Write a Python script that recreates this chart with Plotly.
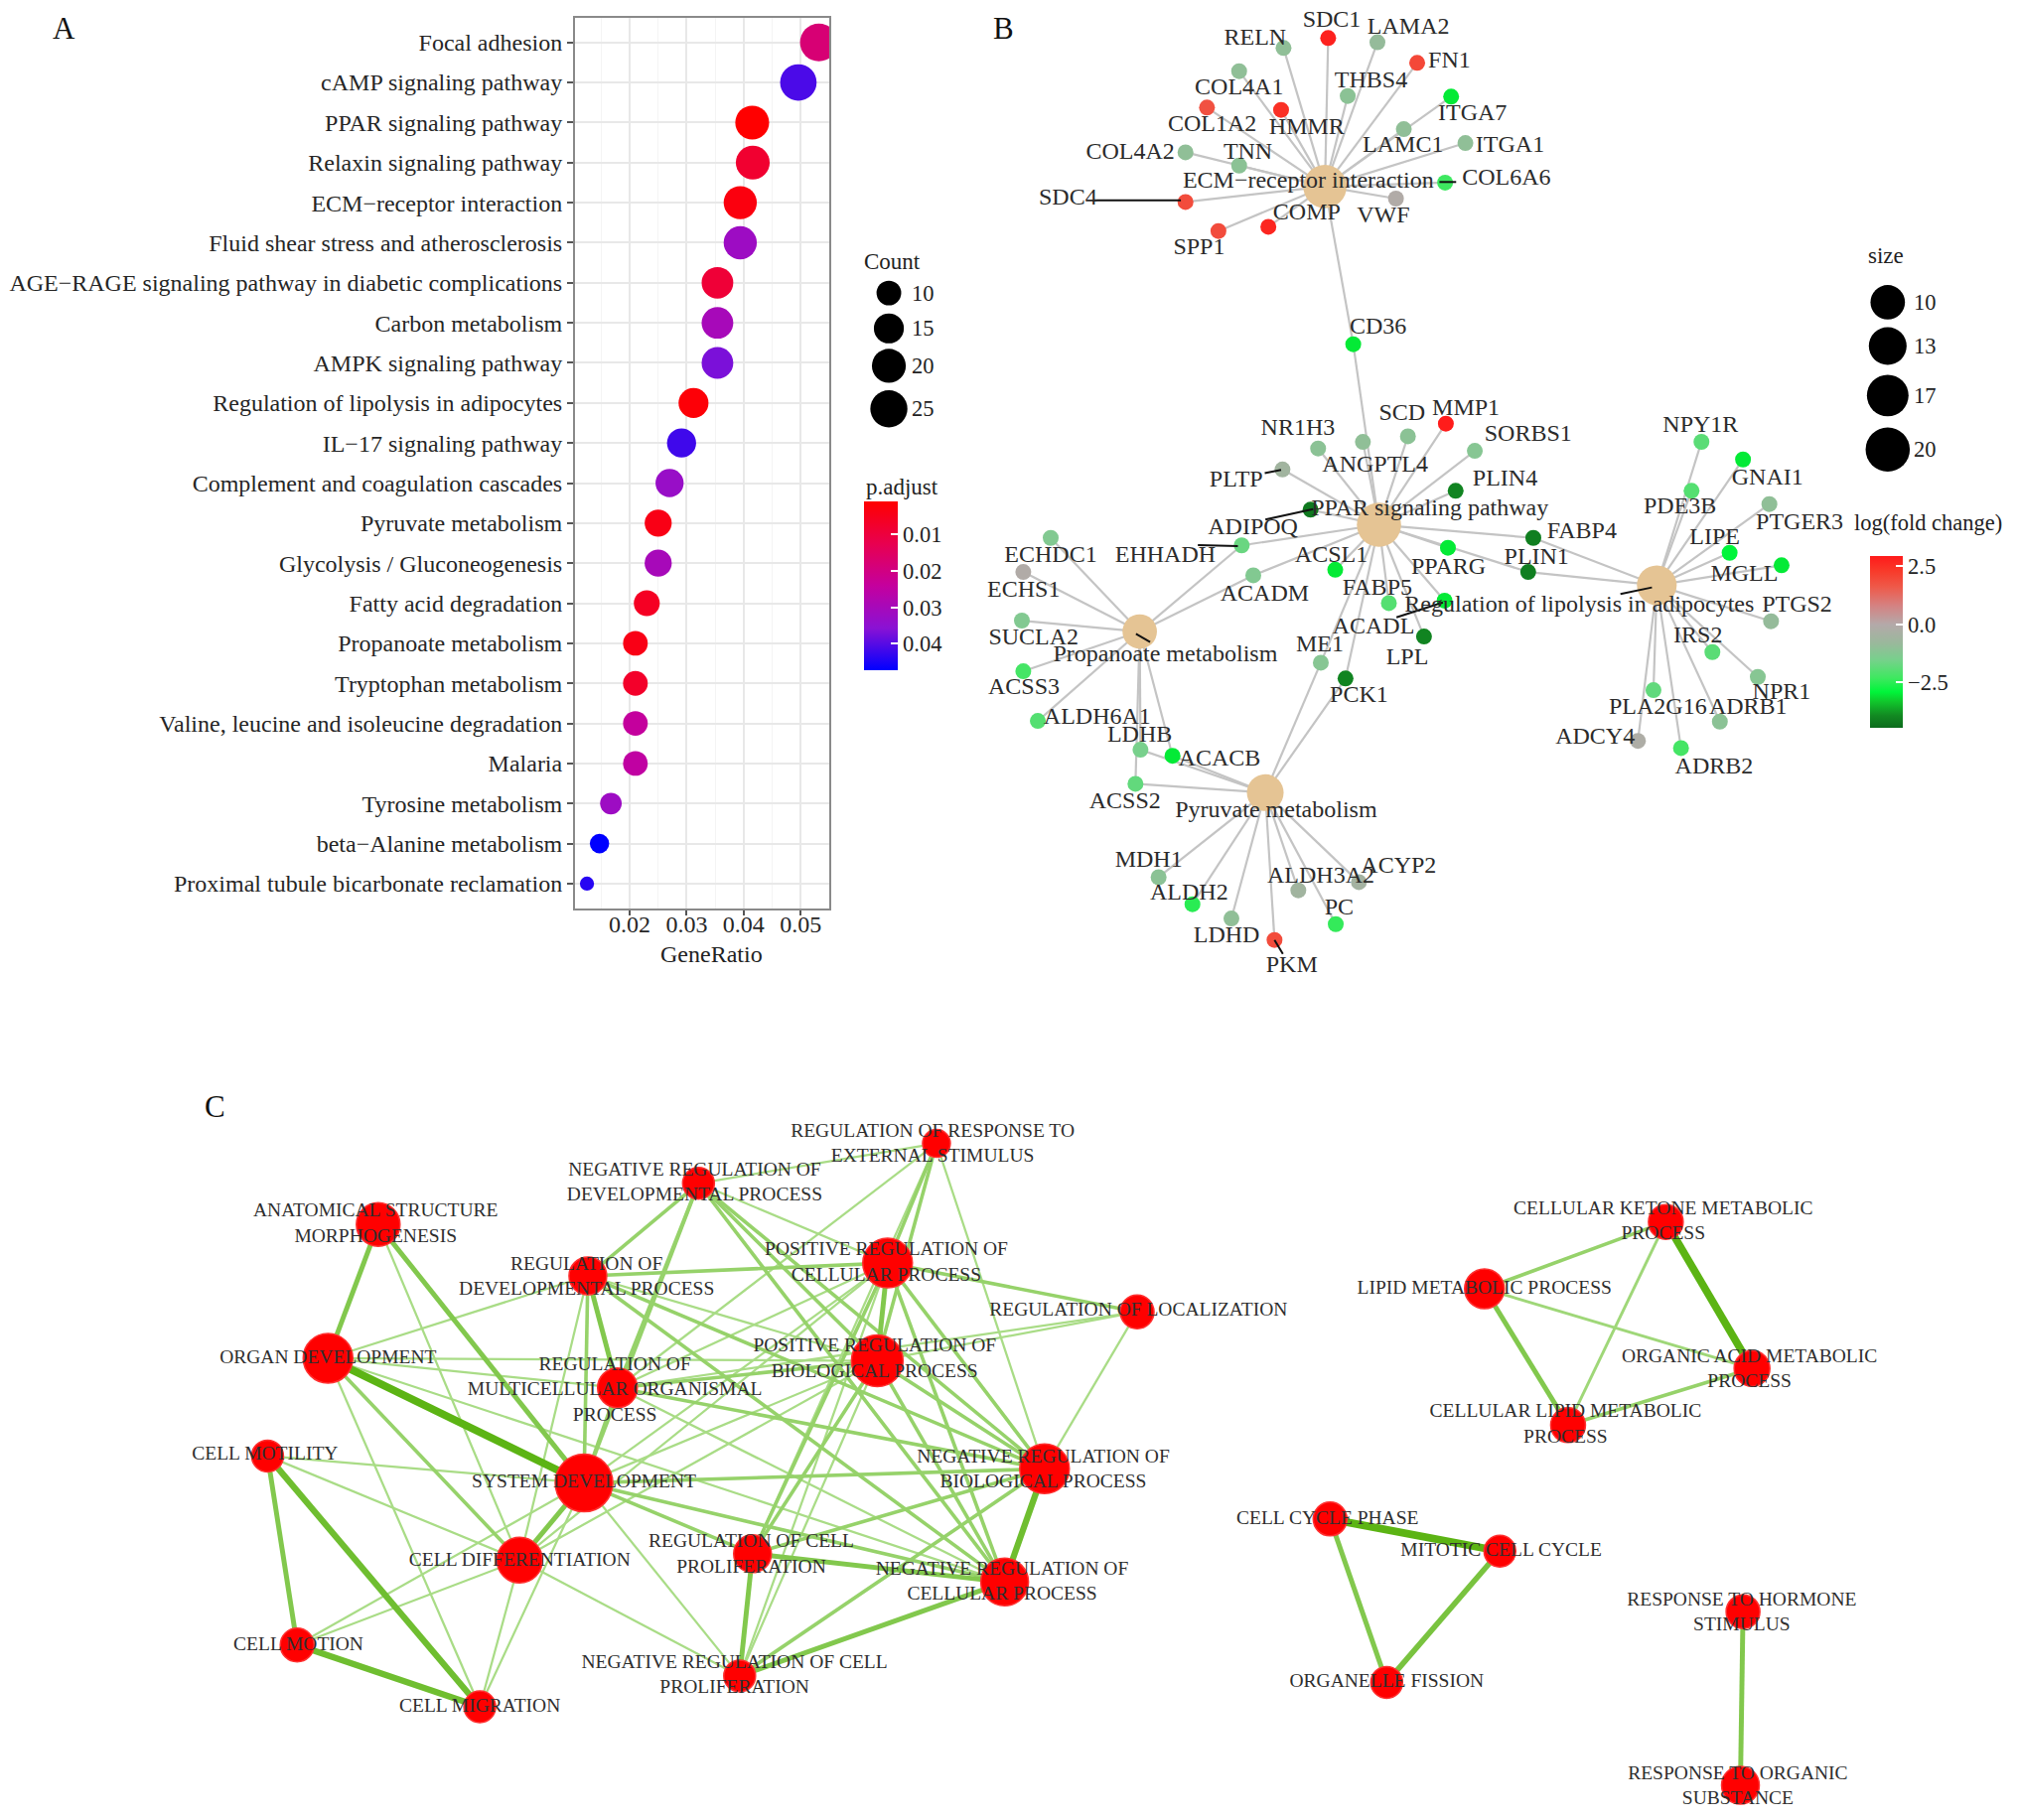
import numpy as np
import plotly.graph_objects as go

W, H = 2031, 1833
W0, H0 = 1568.0, 1415.0          # reference frame units used for the network layouts
S = W / W0                       # pixels per frame unit
SERIF = "Liberation Serif, Times New Roman, serif"
MINUS = "\u2212"

# ---------------- Panel A : KEGG dot plot ----------------
terms = ["Focal adhesion", "cAMP signaling pathway", "PPAR signaling pathway",
         "Relaxin signaling pathway", "ECM" + MINUS + "receptor interaction",
         "Fluid shear stress and atherosclerosis",
         "AGE" + MINUS + "RAGE signaling pathway in diabetic complications",
         "Carbon metabolism", "AMPK signaling pathway",
         "Regulation of lipolysis in adipocytes", "IL" + MINUS + "17 signaling pathway",
         "Complement and coagulation cascades", "Pyruvate metabolism",
         "Glycolysis / Gluconeogenesis", "Fatty acid degradation",
         "Propanoate metabolism", "Tryptophan metabolism",
         "Valine, leucine and isoleucine degradation", "Malaria",
         "Tyrosine metabolism", "beta" + MINUS + "Alanine metabolism",
         "Proximal tubule bicarbonate reclamation"]
gene_ratio = [0.0532, 0.0496, 0.0415, 0.0416, 0.0394, 0.0394, 0.0354, 0.0354, 0.0354,
              0.0312, 0.0291, 0.0270, 0.0250, 0.0250, 0.0230, 0.0210, 0.0210, 0.0210,
              0.0210, 0.0167, 0.0147, 0.0125]
counts = [26, 24, 20, 20, 19, 19, 17, 17, 17, 15, 14, 13, 12, 12, 11, 10, 10, 10, 10, 8, 7, 6]
p_adjust = [0.018, 0.041, 0.0009, 0.008, 0.003, 0.032, 0.009, 0.030, 0.037, 0.002, 0.042,
            0.033, 0.004, 0.030, 0.006, 0.004, 0.007, 0.024, 0.025, 0.032, 0.0473, 0.044]
count_breaks = [10, 15, 20, 25]
padj_ticks = [0.01, 0.02, 0.03, 0.04]
ratio_ticks = [0.02, 0.03, 0.04, 0.05]

# ---------------- Panel B : gene-concept network ----------------
cat_names = ["ECM" + MINUS + "receptor interaction", "PPAR signaling pathway",
             "Regulation of lipolysis in adipocytes", "Propanoate metabolism",
             "Pyruvate metabolism"]
cat_size = [19, 20, 15, 10, 12]
size_breaks = [10, 13, 17, 20]
cat_genes = [
    ["RELN", "SDC1", "LAMA2", "FN1", "COL4A1", "THBS4", "ITGA7", "COL1A2", "HMMR", "LAMC1",
     "ITGA1", "COL4A2", "TNN", "COL6A6", "SDC4", "VWF", "COMP", "SPP1", "CD36"],
    ["CD36", "NR1H3", "ANGPTL4", "SCD", "MMP1", "SORBS1", "PLTP", "PLIN4", "ADIPOQ", "FABP4",
     "PLIN1", "EHHADH", "ACSL1", "PPARG", "ACADM", "FABP5", "ACADL", "LPL", "ME1", "PCK1"],
    ["NPY1R", "GNAI1", "PDE3B", "PTGER3", "LIPE", "MGLL", "PTGS2", "IRS2", "NPR1", "PLA2G16",
     "ADRB1", "ADCY4", "ADRB2", "FABP4", "PLIN1"],
    ["ECHDC1", "ECHS1", "SUCLA2", "ACSS3", "ALDH6A1", "LDHB", "ACACB", "ACSS2", "EHHADH", "ACADM"],
    ["LDHB", "ACACB", "ACSS2", "MDH1", "ALDH2", "LDHD", "PKM", "ALDH3A2", "ACYP2", "PC", "ME1", "PCK1"],
]
genes = ["RELN", "SDC1", "LAMA2", "FN1", "COL4A1", "THBS4", "ITGA7", "COL1A2", "HMMR", "LAMC1",
         "ITGA1", "COL4A2", "TNN", "COL6A6", "SDC4", "VWF", "COMP", "SPP1", "CD36",
         "NR1H3", "ANGPTL4", "SCD", "MMP1", "SORBS1", "PLTP", "PLIN4", "ADIPOQ", "FABP4", "PLIN1",
         "EHHADH", "ACSL1", "PPARG", "ACADM", "FABP5", "ACADL", "LPL", "ME1", "PCK1",
         "ECHDC1", "ECHS1", "SUCLA2", "ACSS3", "ALDH6A1", "LDHB", "ACACB", "ACSS2",
         "MDH1", "ALDH2", "LDHD", "PKM", "ALDH3A2", "ACYP2", "PC",
         "NPY1R", "GNAI1", "PDE3B", "PTGER3", "LIPE", "MGLL", "PTGS2", "IRS2", "NPR1",
         "PLA2G16", "ADRB1", "ADCY4", "ADRB2"]
gene_logfc = [-1.0, 2.8, -0.9, 2.0, -1.0, -1.1, -3.0, 1.8, 2.5, -1.0,
              -1.0, -1.0, -1.1, -2.3, 1.9, -0.1, 2.7, 1.9, -3.0,
              -1.1, -1.0, -1.1, 2.9, -1.2, -0.6, -4.0, -4.2, -4.1, -4.1,
              -1.7, -3.0, -3.0, -1.3, -2.0, -3.0, -4.0, -1.2, -4.0,
              -1.3, -0.1, -1.3, -2.2, -2.0, -1.5, -3.0, -1.8,
              -1.1, -2.5, -1.0, 1.9, -0.6, -0.5, -2.4,
              -1.9, -3.0, -2.0, -1.0, -2.9, -3.0, -0.9, -1.9, -1.2,
              -1.8, -1.1, -0.2, -2.2]
fc_ticks = [2.5, 0.0, -2.5]
fc_range = [-4.44, 2.94]

# network layout (frame units)
cat_x = [1030, 1072, 1288, 886, 983.6]
cat_y = [145, 408, 455, 491, 616.3]
cat_lab_x = [1017, 1111.5, 1227.8, 905.9, 992]
cat_lab_y = [141.5, 395.8, 471, 509.5, 630.5]
gene_x = [997.8, 1032.5, 1070.8, 1101.7, 963.3, 1047.7, 1128.1, 938.3, 995.9, 1091.3,
          1139.2, 921.6, 963.3, 1123.4, 921.6, 1085.2, 986, 947.2, 1052,
          1024.7, 1059.5, 1094.5, 1124, 1146.5, 997, 1131.6, 1018.8, 1192, 1188,
          965.3, 1038, 1125.6, 974.3, 1079.7, 1123, 1107, 1026.8, 1046,
          816.8, 795.5, 794.4, 795.5, 806.8, 886.6, 911.5, 882.7,
          900.7, 927, 957.3, 990.8, 1009.3, 1056.4, 1038.4,
          1322.7, 1355, 1315, 1375.5, 1344.6, 1385, 1376.8, 1331.2, 1366.5,
          1285.4, 1337, 1273.3, 1306.8]
gene_y = [37.3, 29.6, 32.9, 48.9, 55.3, 74.6, 75.1, 83.6, 85.4, 100.4,
          111.2, 118.4, 128.7, 142, 157, 154.4, 176.3, 179.6, 267.6,
          348.7, 343.6, 339.2, 329.4, 350.5, 365, 381.6, 396.3, 418.2, 444.7,
          424, 443, 425.9, 447.3, 468.9, 467, 494.9, 515.2, 527.5,
          418.2, 444.7, 482.5, 521.9, 560.5, 582.9, 587.6, 609.4,
          682, 703, 714.1, 730.8, 692.2, 685.8, 718.5,
          343.5, 357.2, 381.6, 391.9, 429.8, 439.5, 483, 507, 526.3,
          536.6, 561, 576, 581.6]
gene_lab_x = [975.7, 1035.3, 1094.9, 1126.7, 963.3, 1065.8, 1144.7, 942.4, 1015.9, 1090.7,
              1173.9, 878.7, 970.1, 1171.1, 830.2, 1075.4, 1015.9, 932.2, 1071.3,
              1009, 1069, 1090, 1139.6, 1188, 961, 1170, 974, 1229.7, 1194.5,
              905.9, 1034.9, 1126, 983.1, 1070.7, 1067.7, 1094, 1026, 1056.5,
              816.8, 795.8, 803.5, 796, 853, 886, 948, 874.5,
              893, 924.4, 953.5, 1004.2, 1026.8, 1087.3, 1041,
              1322, 1374, 1306, 1399, 1333, 1356, 1397, 1320, 1385,
              1288.8, 1359, 1240, 1332.5]
gene_lab_y = [30.4, 16, 21.9, 47.6, 68.9, 63, 88.8, 97.3, 99.6, 113.2,
              113.2, 118.9, 118.9, 139, 154.4, 168.6, 166, 193, 254.8,
              333.5, 362, 321.6, 318.3, 338, 373.7, 372.6, 411, 413.9, 433.6,
              432.3, 432, 441.6, 462.7, 457.5, 487.6, 512, 501.8, 541,
              432, 459.3, 496.6, 535.2, 558.4, 571.8, 590.5, 624,
              669, 694.8, 727.8, 750.9, 681.4, 674.2, 706.4,
              331.4, 371.8, 394.5, 406.6, 418.6, 447.2, 470.9, 494.9, 539.1,
              550.2, 550.2, 573.5, 597]
# label-repel leader segments (x0, y0, x1, y1)
leaders = [(918, 155.7, 850.6, 155.7), (1119, 141.5, 1132, 141.5), (983.2, 367.9, 995.9, 365.4),
           (983.7, 404.0, 1020.9, 395.8), (931.2, 423.8, 962.3, 424.6), (1085.6, 480.0, 1121.7, 468.4),
           (883.1, 492.8, 894.1, 499.2), (1259.7, 461.9, 1284.2, 456.7), (990.8, 730.8, 997.3, 741.6)]

# ---------------- Panel C : enrichment map ----------------
go_terms = ["ANATOMICAL STRUCTURE<br>MORPHOGENESIS", "NEGATIVE REGULATION OF<br>DEVELOPMENTAL PROCESS",
            "REGULATION OF RESPONSE TO<br>EXTERNAL STIMULUS", "REGULATION OF<br>DEVELOPMENTAL PROCESS",
            "POSITIVE REGULATION OF<br>CELLULAR PROCESS", "REGULATION OF LOCALIZATION",
            "ORGAN DEVELOPMENT", "REGULATION OF<br>MULTICELLULAR ORGANISMAL<br>PROCESS",
            "POSITIVE REGULATION OF<br>BIOLOGICAL PROCESS", "CELL MOTILITY", "SYSTEM DEVELOPMENT",
            "NEGATIVE REGULATION OF<br>BIOLOGICAL PROCESS", "CELL DIFFERENTIATION",
            "REGULATION OF CELL<br>PROLIFERATION", "NEGATIVE REGULATION OF<br>CELLULAR PROCESS",
            "CELL MOTION", "CELL MIGRATION", "NEGATIVE REGULATION OF CELL<br>PROLIFERATION",
            "CELLULAR KETONE METABOLIC<br>PROCESS", "LIPID METABOLIC PROCESS",
            "ORGANIC ACID METABOLIC<br>PROCESS", "CELLULAR LIPID METABOLIC<br>PROCESS",
            "CELL CYCLE PHASE", "MITOTIC CELL CYCLE", "ORGANELLE FISSION",
            "RESPONSE TO HORMONE<br>STIMULUS", "RESPONSE TO ORGANIC<br>SUBSTANCE"]
go_node_size = [44, 32, 28, 38, 50, 34, 50, 40, 52, 32, 58, 50, 46, 38, 48, 34, 32, 32,
                35, 40, 36, 35, 34, 32, 32, 34, 38]
go_edges = [(0, 6, 3), (0, 10, 3), (0, 12, 1),
            (6, 10, 5), (6, 3, 1), (6, 7, 1), (6, 12, 2), (6, 16, 1), (6, 8, 1), (6, 14, 1),
            (9, 15, 3), (9, 16, 4), (15, 16, 4), (9, 10, 1), (9, 12, 1), (15, 12, 1),
            (15, 10, 1), (16, 12, 1), (16, 10, 1),
            (10, 12, 3), (10, 7, 2), (10, 3, 2), (10, 1, 2), (10, 4, 1), (10, 8, 1),
            (10, 11, 2), (10, 14, 2), (10, 13, 2), (10, 17, 1),
            (12, 17, 1), (12, 3, 1), (12, 8, 1), (12, 4, 1),
            (1, 3, 2), (1, 7, 2), (1, 8, 2), (1, 11, 2), (1, 14, 2), (1, 2, 1), (1, 4, 1),
            (2, 4, 2), (2, 8, 2), (2, 11, 1), (2, 13, 1), (2, 7, 1),
            (3, 4, 2), (3, 7, 3), (3, 8, 1), (3, 11, 2), (3, 14, 2),
            (4, 8, 3), (4, 5, 2), (4, 11, 2), (4, 14, 2), (4, 13, 2), (4, 17, 1), (4, 7, 1),
            (8, 5, 1), (8, 11, 2), (8, 14, 2), (8, 13, 2), (8, 17, 1), (8, 7, 2),
            (5, 11, 1), (5, 7, 1),
            (11, 14, 4), (11, 13, 2), (11, 17, 2), (11, 7, 2),
            (14, 13, 3), (14, 17, 3), (14, 7, 1), (13, 17, 3),
            (18, 19, 2), (18, 20, 5), (18, 21, 1.5), (19, 20, 1.5), (19, 21, 3), (20, 21, 2),
            (22, 23, 5), (22, 24, 3), (23, 24, 3.5), (25, 26, 3)]
# map layout (frame units)
go_x = [294, 543, 728, 457, 690, 884, 255, 480, 682, 208, 454, 812, 404, 585, 781, 231, 373, 575,
        1295, 1154, 1362, 1219, 1034, 1166, 1078, 1355, 1353]
go_y = [952, 920, 889, 992, 982, 1020, 1056, 1079, 1058, 1132, 1153, 1142, 1213, 1208, 1230, 1279,
        1327, 1303, 950, 1002, 1064, 1108, 1181, 1206, 1308, 1253, 1388]
go_lab_x = [292, 540, 725, 456, 689, 885, 255, 478, 680, 206, 454, 811, 404, 584, 779, 232, 373, 571,
            1293, 1154, 1360, 1217, 1032, 1167, 1078, 1354, 1351]
go_lab_y = [952, 920, 890, 993, 982, 1019, 1056, 1081, 1057, 1131, 1153, 1143, 1214, 1209, 1230, 1279,
            1327, 1303, 950, 1002, 1065, 1108, 1181, 1206, 1308, 1254, 1389]


# ---------------- helpers ----------------
cmin_c, cmax_c = min(counts), max(counts)


def dot_px(c):
    return 4.75 * (3 + 5 * np.sqrt((c - cmin_c) / (cmax_c - cmin_c)))


def cat_px(s):
    return 11 + 7.5 * np.sqrt(s)


def hex_mix(c1, c2, t):
    a = np.array([int(c1[i:i + 2], 16) for i in (1, 3, 5)])
    b = np.array([int(c2[i:i + 2], 16) for i in (1, 3, 5)])
    m = (a + (b - a) * t).round().astype(int)
    return "#%02x%02x%02x" % tuple(m)


fig = go.Figure()

# ---- Panel A traces ----
fig.add_trace(go.Scatter(
    x=gene_ratio, y=terms, mode="markers", xaxis="x", yaxis="y",
    marker=dict(size=[dot_px(c) for c in counts], color=[-p for p in p_adjust],
                coloraxis="coloraxis", line=dict(width=0), opacity=1),
    hoverinfo="skip", showlegend=False))

count_leg_y = [227.8, 255.3, 284.4, 317.8]
fig.add_trace(go.Scatter(
    x=[691] * len(count_breaks), y=count_leg_y, mode="markers", xaxis="x2", yaxis="y2",
    marker=dict(size=[dot_px(c) for c in count_breaks], color="black", line=dict(width=0), opacity=1),
    hoverinfo="skip", showlegend=False))

# ---- Panel B traces ----
gidx = {g: i for i, g in enumerate(genes)}
ex, ey = [], []
for ci, gl in enumerate(cat_genes):
    for g in gl:
        i = gidx[g]
        ex += [cat_x[ci], gene_x[i], None]
        ey += [cat_y[ci], gene_y[i], None]
fig.add_trace(go.Scatter(x=ex, y=ey, mode="lines", xaxis="x2", yaxis="y2",
                         line=dict(color="#c4c4c4", width=2.2), hoverinfo="skip", showlegend=False))
fig.add_trace(go.Scatter(x=cat_x, y=cat_y, mode="markers", xaxis="x2", yaxis="y2",
                         marker=dict(size=[cat_px(s) for s in cat_size], color="#E5C494",
                                     line=dict(width=0), opacity=1),
                         hoverinfo="skip", showlegend=False))
fig.add_trace(go.Scatter(x=gene_x, y=gene_y, mode="markers", xaxis="x2", yaxis="y2",
                         marker=dict(size=16, color=gene_logfc, coloraxis="coloraxis2",
                                     line=dict(width=0), opacity=1),
                         hoverinfo="skip", showlegend=False))
lx, ly = [], []
for (x0, y0, x1, y1) in leaders:
    lx += [x0, x1, None]
    ly += [y0, y1, None]
fig.add_trace(go.Scatter(x=lx, y=ly, mode="lines", xaxis="x2", yaxis="y2",
                         line=dict(color="#111111", width=2), hoverinfo="skip", showlegend=False))
fig.add_trace(go.Scatter(x=gene_lab_x + cat_lab_x, y=gene_lab_y + cat_lab_y, mode="text",
                         text=genes + cat_names, textposition="middle center", xaxis="x2", yaxis="y2",
                         textfont=dict(family=SERIF, size=24, color="#2b2b2b"),
                         hoverinfo="skip", showlegend=False))
size_leg_y = [235, 269, 307.5, 349.5]
fig.add_trace(go.Scatter(
    x=[1467.5] * len(size_breaks), y=size_leg_y, mode="markers", xaxis="x2", yaxis="y2",
    marker=dict(size=[cat_px(s) for s in size_breaks], color="black", line=dict(width=0), opacity=1),
    hoverinfo="skip", showlegend=False))

# ---- Panel C traces ----
ws = sorted(set(e[2] for e in go_edges))
for w in ws:
    xs, ys = [], []
    for (i, j, ww) in go_edges:
        if ww == w:
            xs += [go_x[i], go_x[j], None]
            ys += [go_y[i], go_y[j], None]
    t = (w - 1) / 4.0
    fig.add_trace(go.Scatter(x=xs, y=ys, mode="lines", xaxis="x2", yaxis="y2",
                             line=dict(color=hex_mix("#a9dc86", "#5cb414", t), width=0.9 + 1.35 * w),
                             hoverinfo="skip", showlegend=False))
fig.add_trace(go.Scatter(x=go_x, y=go_y, mode="markers", xaxis="x2", yaxis="y2",
                         marker=dict(size=go_node_size, color="#ff0000", opacity=1,
                                     line=dict(width=1.5, color="#ff3030")),
                         hoverinfo="skip", showlegend=False))
fig.add_trace(go.Scatter(x=go_lab_x, y=go_lab_y, mode="text", text=go_terms,
                         textposition="middle center", xaxis="x2", yaxis="y2",
                         textfont=dict(family=SERIF, size=19.5, color="#2e2e2e"),
                         hoverinfo="skip", showlegend=False))

# ---------------- annotations ----------------
ann = []


def add_text(x, y, txt, size=23, xanchor="center", color="#222222"):
    ann.append(dict(x=x, y=y, xref="x2", yref="y2", text=txt, showarrow=False,
                    xanchor=xanchor, yanchor="middle",
                    font=dict(family=SERIF, size=size, color=color)))


add_text(50, 22, "A", 31, color="#111111")
add_text(780, 22, "B", 31, color="#111111")
add_text(167, 860, "C", 31, color="#111111")
add_text(553, 742, "GeneRatio", 24)
add_text(693.5, 203.3, "Count", 23)
for c, yy in zip(count_breaks, count_leg_y):
    add_text(707, yy, str(c), 22.5, xanchor="left")
add_text(672, 378.3, "p.adjust", 23, xanchor="left")
add_text(1466, 199, "size", 23)
for s, yy in zip(size_breaks, size_leg_y):
    add_text(1486, yy, str(s), 22.5, xanchor="left")
add_text(1558, 406.6, "log(fold change)", 22.5, xanchor="right")

padj_scale = [[0.0, "#0000ff"], [0.25, "#8a12d4"], [0.5, "#c4009e"], [0.75, "#e8004f"], [1.0, "#ff0000"]]
fc_stops = [(-4.44, "#0c6b1c"), (-3.9, "#128a22"), (-3.3, "#10c82c"), (-2.9, "#00f53a"),
            (-2.3, "#3ee860"), (-1.5, "#78d08c"), (-0.8, "#9ab89c"), (0.0, "#b4a9a9"),
            (0.8, "#d48282"), (1.6, "#ee5a4a"), (2.3, "#f83a2a"), (2.94, "#ff1a1a")]
fc_scale = [[(v - fc_range[0]) / (fc_range[1] - fc_range[0]), c] for v, c in fc_stops]

axis_font = dict(family=SERIF, size=24, color="#262626")
fig.update_layout(
    width=W, height=H, margin=dict(l=0, r=0, t=0, b=0),
    paper_bgcolor="white", plot_bgcolor="rgba(0,0,0,0)", showlegend=False,
    xaxis=dict(domain=[447 / W0, 645 / W0], range=[0.0104, 0.0551], anchor="y",
               tickmode="array", tickvals=ratio_ticks, ticktext=["%.2f" % v for v in ratio_ticks],
               showgrid=True, gridcolor="#e8e8e8", gridwidth=2, zeroline=False,
               minor=dict(dtick=0.005, tick0=0.015, showgrid=True, gridcolor="#f4f4f4", gridwidth=1.2, ticks=""),
               showline=True, linecolor="#8a8a8a", linewidth=2, mirror=True,
               ticks="outside", ticklen=5, tickwidth=2, tickcolor="#555555", tickfont=axis_font,
               ticklabelstandoff=-11),
    yaxis=dict(domain=[1 - 706 / H0, 1 - 14 / H0], anchor="x", type="category",
               categoryorder="array", categoryarray=terms, range=[len(terms) - 1 + 0.61, -0.61],
               showgrid=True, gridcolor="#e8e8e8", gridwidth=2, zeroline=False,
               showline=True, linecolor="#8a8a8a", linewidth=2, mirror=True,
               ticks="outside", ticklen=6, tickwidth=2, tickcolor="#555555", tickfont=axis_font),
    xaxis2=dict(domain=[0, 1], range=[0, W0], anchor="y2", visible=False, fixedrange=True),
    yaxis2=dict(domain=[0, 1], range=[H0, 0], anchor="x2", visible=False, fixedrange=True),
    coloraxis=dict(cmin=-max(p_adjust), cmax=-min(p_adjust), colorscale=padj_scale,
                   colorbar=dict(x=671.7 / W0, xanchor="left", y=1 - (389.9 + 521.1) / 2 / H0,
                                 yanchor="middle", len=131.2 * S, lenmode="pixels",
                                 thickness=26.2 * S, thicknessmode="pixels", xpad=0, ypad=0,
                                 tickmode="array", tickvals=[-t for t in padj_ticks],
                                 ticktext=["%.2f" % t for t in padj_ticks], ticks="inside",
                                 tickcolor="white", ticklen=7, tickwidth=2, outlinewidth=0,
                                 tickfont=dict(family=SERIF, size=22.5, color="#222222"))),
    coloraxis2=dict(cmin=fc_range[0], cmax=fc_range[1], colorscale=fc_scale,
                    colorbar=dict(x=1454 / W0, xanchor="left", y=1 - (432.3 + 565.6) / 2 / H0,
                                  yanchor="middle", len=133.3 * S, lenmode="pixels",
                                  thickness=25.7 * S, thicknessmode="pixels", xpad=0, ypad=0,
                                  tickmode="array", tickvals=fc_ticks,
                                  ticktext=["%.1f" % t if t >= 0 else MINUS + "%.1f" % -t for t in fc_ticks],
                                  ticks="inside", tickcolor="white", ticklen=7, tickwidth=2,
                                  outlinewidth=0,
                                  tickfont=dict(family=SERIF, size=22.5, color="#222222"))),
    annotations=ann,
)

fig.write_html("out.html", config={"displayModeBar": False, "staticPlot": True},
               post_script="document.body.style.margin='0px';")
